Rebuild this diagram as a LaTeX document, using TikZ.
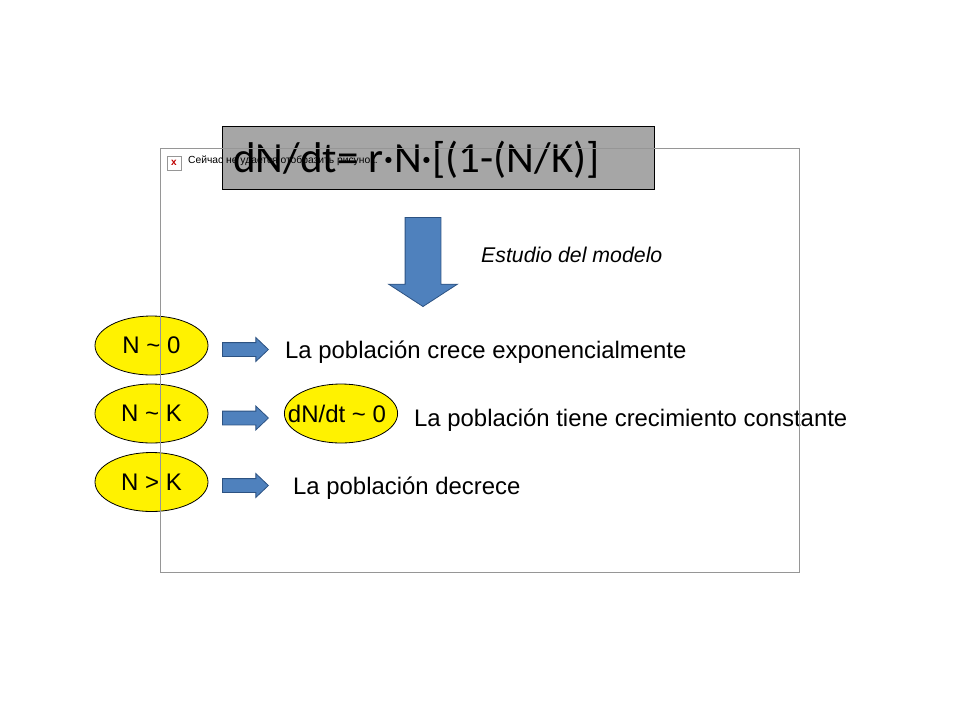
\documentclass[tikz,border=0pt]{standalone}
\usepackage{fontspec}
\setmainfont{Liberation Sans}
\newfontfamily\titlefont{Carlito}
\usetikzlibrary{shapes.geometric,shapes.arrows}
\definecolor{flecha}{RGB}{79,129,189}
\definecolor{bordeflecha}{RGB}{44,82,130}
\definecolor{gris}{RGB}{166,166,166}
\definecolor{marco}{RGB}{150,150,150}
\tikzset{
  estado/.style={ellipse,draw=black,fill=yellow,line width=0.8pt,minimum width=113,minimum height=59,inner sep=0pt,font=\fontsize{24}{28}\selectfont},
  flechita/.style={single arrow,draw=bordeflecha,fill=flecha,line width=0.8pt,inner xsep=0pt,inner ysep=6.5,minimum height=46,single arrow head extend=5,single arrow tip angle=87,anchor=tip},
  texto/.style={anchor=west,inner sep=0pt,font=\fontsize{23.9}{28}\selectfont}
}
\begin{document}
\begin{tikzpicture}[x=1pt,y=-1pt]
    \useasboundingbox (0,0) rectangle (960,720);

    % Titulo
    \node[draw=black,fill=gris,line width=0.8pt,minimum width=432,minimum height=63,inner sep=0pt] (titulo) at (438.5,157.5) {};
    \node[anchor=west,inner sep=0pt,font=\titlefont\fontsize{43}{48}\selectfont] (formula) at (233,159.5) {dN/dt= r·N·[(1-(N/K)]};

    % Flecha principal
    \node[single arrow,draw=bordeflecha,fill=flecha,line width=0.8pt,inner ysep=0pt,inner xsep=17.5,minimum height=89,single arrow head extend=16.5,single arrow tip angle=114,shape border rotate=270,anchor=tip] (bajada) at (423,307) {};
    \node[texto,font=\itshape\fontsize{21.3}{25}\selectfont] (estudio) at (481,255) {Estudio del modelo};

    % Casos
    \node[estado] (cero) at (151.5,345.5) {N \textasciitilde\ 0};
    \node[estado] (igual) at (151.5,413.5) {N \textasciitilde\ K};
    \node[estado] (mayor) at (151.5,482) {N > K};
    \node[estado,inner xsep=-13] (deriv) at (341,413.5) {dN/dt \textasciitilde\ 0\hspace{8pt}\mbox{}};

    % Flechas
    \node[flechita] (fcero) at (269,349.5) {};
    \node[flechita] (figual) at (269,418) {};
    \node[flechita] (fmayor) at (269,485.5) {};

    % Resultados
    \node[texto] (crece) at (285,352) {La población crece exponencialmente};
    \node[texto] (constante) at (414,420) {La población tiene crecimiento constante};
    \node[texto] (decrece) at (293,488) {La población decrece};

    % Imagen que falta
    \node[draw=marco,fill=white,line width=0.5pt,minimum size=14,inner sep=0pt,text=red!75!black,font=\bfseries\fontsize{10}{10}\selectfont] (icono) at (174,163) {x};
    \node[anchor=west,inner sep=0pt,font=\fontsize{10.3}{12}\selectfont] (aviso) at (188,161) {Сейчас не удается отобразить рисунок.};
    \draw[marco,line width=0.7pt] (160.5,148) rectangle (799.5,572);

\end{tikzpicture}
\end{document}
